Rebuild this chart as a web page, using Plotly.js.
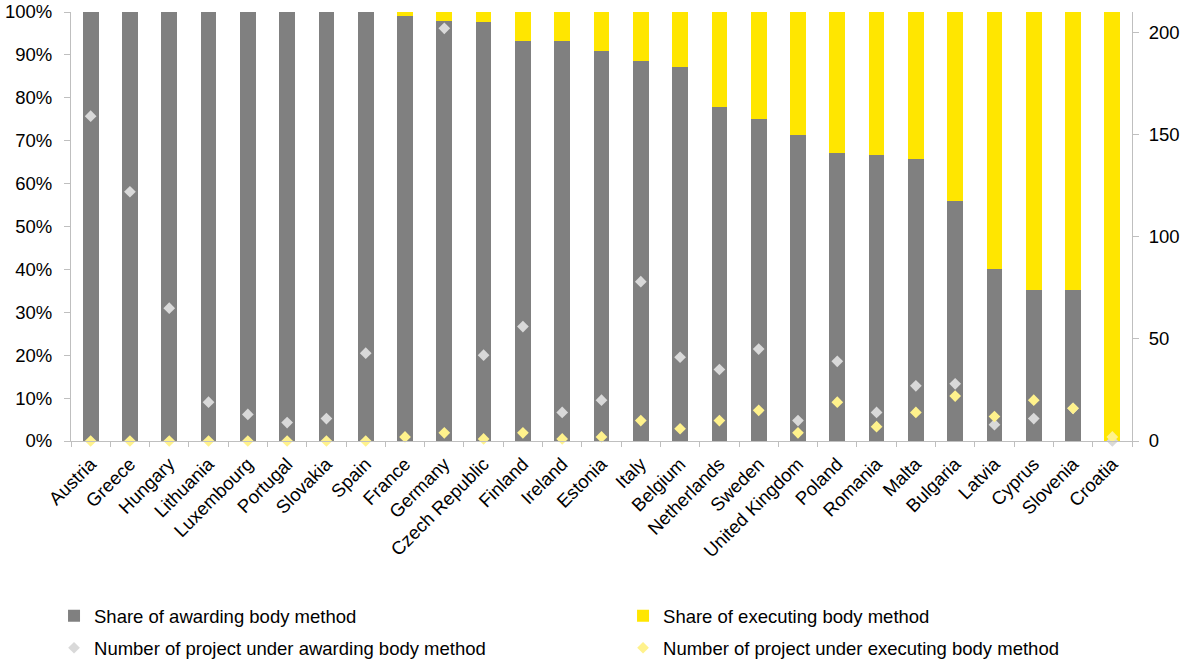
<!DOCTYPE html>
<html>
<head>
<meta charset="utf-8">
<script src="https://cdn.plot.ly/plotly-3.0.1.min.js"></script>
<style>
  html, body { margin: 0; padding: 0; background: #fff; }
  #chart { width: 1184px; height: 662px; }
</style>
</head>
<body>
<div id="chart"></div>
<script>
// Member states, ordered by share of the awarding body method
const countries = ["Austria", "Greece", "Hungary", "Lithuania", "Luxembourg", "Portugal", "Slovakia",
  "Spain", "France", "Germany", "Czech Republic", "Finland", "Ireland", "Estonia", "Italy", "Belgium",
  "Netherlands", "Sweden", "United Kingdom", "Poland", "Romania", "Malta", "Bulgaria", "Latvia",
  "Cyprus", "Slovenia", "Croatia"];

// Shares (left axis)
const shareAwarding = [1, 1, 1, 1, 1, 1, 1, 1, 0.99, 0.98, 0.977, 0.933, 0.933, 0.909, 0.886, 0.872,
  0.778, 0.75, 0.714, 0.672, 0.667, 0.658, 0.559, 0.40, 0.353, 0.353, 0];
const shareExecuting = [0, 0, 0, 0, 0, 0, 0, 0, 0.01, 0.02, 0.023, 0.067, 0.067, 0.091, 0.114, 0.128,
  0.222, 0.25, 0.286, 0.328, 0.333, 0.342, 0.441, 0.60, 0.647, 0.647, 1];

// Number of projects (right axis)
const projectsAwarding = [159, 122, 65, 19, 13, 9, 11, 43, null, 202, 42, 56, 14, 20, 78, 41,
  35, 45, 10, 39, 14, 27, 28, 8, 11, 16, 0];
const projectsExecuting = [0, 0, 0, 0, 0, 0, 0, 0, 2, 4, 1, 4, 1, 2, 10, 6,
  10, 15, 4, 19, 7, 14, 22, 12, 20, 16, 2];

const leftTicks = [0, 0.1, 0.2, 0.3, 0.4, 0.5, 0.6, 0.7, 0.8, 0.9, 1];
const rightTicks = [0, 50, 100, 150, 200];

const FONT = "Liberation Sans, Arial, sans-serif";
const FS = 18.5;
const AXIS = "#bfbfbf";

const traces = [
  {
    type: "bar", name: "Share of awarding body method",
    x: countries, y: shareAwarding,
    marker: { color: "#808080" },
    legend: "legend", hoverinfo: "x+y"
  },
  {
    type: "bar", name: "Share of executing body method",
    x: countries, y: shareExecuting,
    marker: { color: "#FFE600" },
    legend: "legend2", hoverinfo: "x+y"
  },
  {
    type: "scatter", mode: "markers", name: "Number of project under awarding body method",
    x: countries, y: projectsAwarding, yaxis: "y2",
    marker: { symbol: "diamond", size: 9, color: "#D9D9D9" },
    legend: "legend3", cliponaxis: false
  },
  {
    type: "scatter", mode: "markers", name: "Number of project under executing body method",
    x: countries, y: projectsExecuting, yaxis: "y2",
    marker: { symbol: "diamond", size: 9, color: "#FFF28C" },
    legend: "legend4", cliponaxis: false
  }
];

// One legend per entry so the two-column, two-row key can be placed exactly
function key(x, y) {
  return {
    orientation: "v", x: x, y: y, xanchor: "left", yanchor: "middle",
    itemwidth: 30, borderwidth: 0,
    font: { family: FONT, size: FS, color: "#000" },
    bgcolor: "rgba(0,0,0,0)",
    itemclick: false, itemdoubleclick: false
  };
}
const colLeft = -0.016, colRight = 0.5203;
const rowTop = -0.4086, rowBottom = -0.4831;

const layout = {
  width: 1184, height: 662,
  margin: { l: 71, r: 52, t: 12, b: 221, autoexpand: false },
  paper_bgcolor: "#fff", plot_bgcolor: "#fff",
  barmode: "stack", bargap: 0.6,
  font: { family: FONT, size: FS, color: "#000" },
  showlegend: true,
  legend: key(colLeft, rowTop),
  legend2: key(colRight, rowTop),
  legend3: key(colLeft, rowBottom),
  legend4: key(colRight, rowBottom),
  xaxis: {
    type: "category", range: [-0.5, countries.length - 0.5], autorange: false,
    tickangle: -45, automargin: false,
    showline: true, linecolor: AXIS, linewidth: 1,
    ticks: "outside", tickson: "boundaries", ticklen: 5, tickcolor: AXIS, ticklabelstandoff: 4,
    showgrid: false, zeroline: false,
    tickfont: { family: FONT, size: FS, color: "#000" }
  },
  yaxis: {
    range: [0, 1], tickvals: leftTicks, tickformat: ".0%", automargin: false,
    showline: true, linecolor: AXIS, linewidth: 1,
    ticks: "outside", ticklen: 6, tickcolor: AXIS, ticklabelstandoff: 8,
    showgrid: false, zeroline: false,
    tickfont: { family: FONT, size: FS, color: "#000" }
  },
  yaxis2: {
    overlaying: "y", side: "right", range: [0, 210], tickvals: rightTicks, automargin: false,
    showline: true, linecolor: AXIS, linewidth: 1,
    ticks: "outside", ticklen: 6, tickcolor: AXIS, ticklabelstandoff: 6,
    showgrid: false, zeroline: false,
    tickfont: { family: FONT, size: FS, color: "#000" }
  }
};

Plotly.newPlot("chart", traces, layout, { displayModeBar: false, staticPlot: true });
</script>
</body>
</html>
